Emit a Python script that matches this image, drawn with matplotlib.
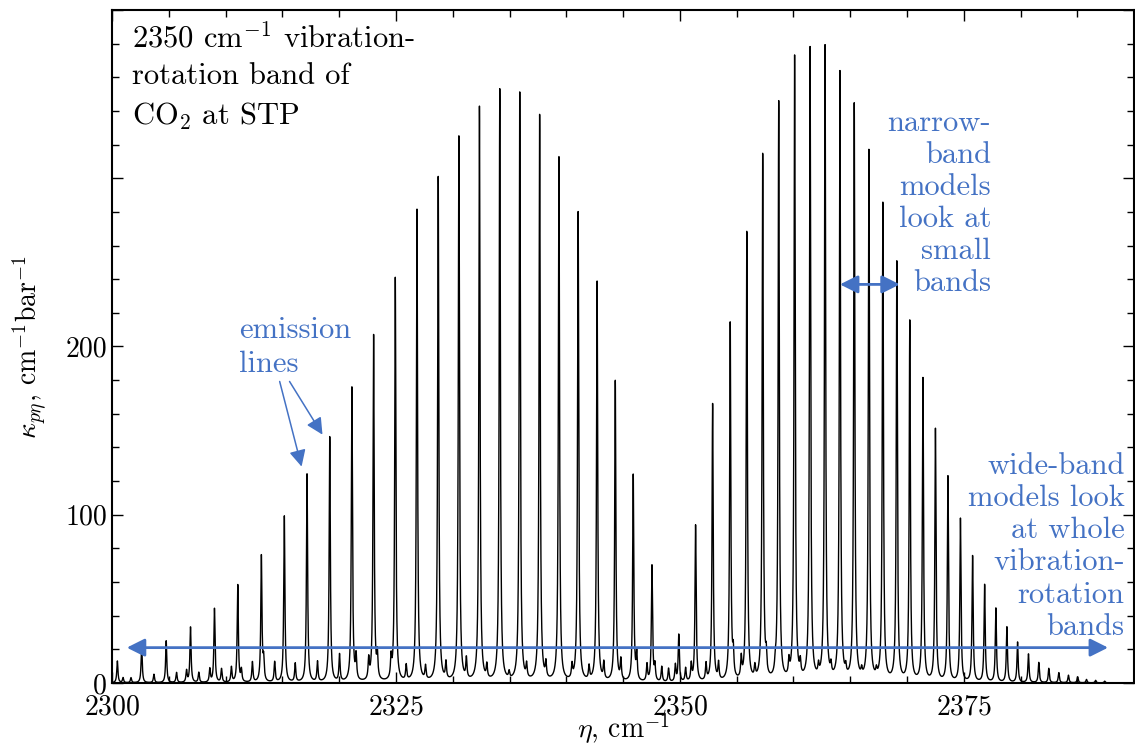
import numpy as np
import matplotlib
matplotlib.use("Agg")
import matplotlib.pyplot as plt
from matplotlib.ticker import MultipleLocator, FuncFormatter

plt.rcParams['font.family'] = ['cmr10', 'DejaVu Serif']
plt.rcParams['mathtext.fontset'] = 'cm'
plt.rcParams['axes.formatter.use_mathtext'] = True

# strong band lines: centre (cm^-1) and peak height
line_pos = [2300.47, 2302.61, 2304.77, 2306.91, 2309.02, 2311.07, 2313.15, 2315.17,
            2317.17, 2319.17, 2321.12, 2323.03, 2324.94, 2326.85, 2328.72, 2330.54,
            2332.35, 2334.14, 2335.90, 2337.65, 2339.35, 2341.04, 2342.71, 2344.31,
            2345.89, 2347.54, 2349.90,
            2351.38, 2352.88, 2354.43, 2355.89, 2357.29, 2358.70, 2360.10, 2361.46,
            2362.78, 2364.09, 2365.35, 2366.64, 2367.87, 2369.10, 2370.24, 2371.40,
            2372.50, 2373.60, 2374.70, 2375.77, 2376.83, 2377.82, 2378.79, 2379.73,
            2380.69, 2381.60, 2382.48, 2383.36, 2384.21, 2385.02, 2385.80, 2386.60,
            2387.40]
line_h = [13, 22, 25, 33, 44, 58, 75, 99, 124, 146, 175, 206, 240, 281, 300, 324,
          342, 352, 350, 337, 312, 279, 238, 179, 123, 69, 28,
          93, 165, 213, 267, 313, 344, 371, 376, 377, 362, 343, 315, 284, 249,
          214, 180, 150, 122, 97, 75, 58, 44, 33, 24, 17, 12, 8.5, 6, 4.5, 3.5,
          2, 1.5, 1]

# weak (hot band) lines
hot_pos = [2300.97, 2301.67, 2303.69, 2305.68, 2306.56, 2307.64, 2308.61, 2309.64,
           2310.51, 2311.39, 2312.36, 2313.35, 2314.32, 2316.13, 2318.09, 2320.03,
           2321.49, 2322.60, 2323.36, 2324.57, 2325.90, 2327.60, 2329.40, 2331.20,
           2333.00, 2334.96, 2336.50, 2338.20, 2340.50, 2342.00, 2343.30, 2344.80,
           2346.20, 2347.10, 2347.80, 2348.40, 2349.00, 2349.60, 2350.50, 2351.00,
           2352.30, 2353.40, 2354.70, 2355.40, 2356.60, 2357.60, 2358.40, 2359.60,
           2360.60, 2362.20, 2363.30, 2364.60, 2366.00, 2367.30]
hot_h = [3, 3, 5, 6, 7, 6, 8, 8, 9, 7, 12, 12, 12, 11, 12, 16, 14, 12, 14, 12,
         9, 8, 10, 12, 8, 4, 8, 9, 8, 8, 10, 12, 15, 10, 9, 9, 8, 10, 8, 10,
         10, 10, 14, 12, 7, 11, 5, 9, 8, 6, 6, 5, 4, 4]

gamma = 0.06  # Lorentz half width, cm^-1
blue = '#4472C4'

eta = np.arange(2300.0, 2390.0, 0.004)
kappa = np.zeros_like(eta)
for p, h in zip(line_pos + hot_pos, line_h + hot_h):
    kappa += h * gamma**2 / ((eta - p)**2 + gamma**2)

fig = plt.figure(figsize=(11.35, 7.46), dpi=100)
ax = fig.add_axes([0.0987, 0.0845, 0.9993 - 0.0987, 0.9866 - 0.0845])
ax.plot(eta, kappa, color='black', lw=1.0)
ax.set_xlim(2300, 2390)
ax.set_ylim(0, 400)

ax.xaxis.set_major_locator(MultipleLocator(25))
ax.xaxis.set_minor_locator(MultipleLocator(5))
ax.yaxis.set_major_locator(MultipleLocator(100))
ax.yaxis.set_minor_locator(MultipleLocator(20))
ax.yaxis.set_major_formatter(FuncFormatter(lambda v, p: '%d' % v if v <= 200 else ''))
ax.tick_params(which='both', direction='in', top=True, right=True, labelsize=20)
ax.tick_params(which='major', length=8, width=1)
ax.tick_params(which='minor', length=5, width=1)
ax.tick_params(axis='x', which='major', pad=8)
for s in ax.spines.values():
    s.set_linewidth(1.5)

ax.set_xlabel(r'$\eta$, cm$^{-1}$', fontsize=20, labelpad=-6)
ax.set_ylabel(r'$\kappa_{p\eta}$, cm$^{-1}$bar$^{-1}$', fontsize=20, labelpad=12)

ax.text(2301.8, 393, '2350 cm$^{-1}$ vibration-\nrotation band of\nCO$_2$ at STP',
        fontsize=22, va='top', ha='left', linespacing=1.45)

ax.text(2311.15, 218, 'emission\nlines', fontsize=22, color=blue, va='top',
        ha='left', linespacing=1.3)
ax.annotate('', xy=(2316.69, 128.6), xytext=(2314.76, 179.2),
            arrowprops=dict(arrowstyle='-|>', color=blue, lw=1.1,
                            mutation_scale=25, shrinkA=0, shrinkB=0))
ax.annotate('', xy=(2318.53, 147.6), xytext=(2315.63, 179.2),
            arrowprops=dict(arrowstyle='-|>', color=blue, lw=1.1,
                            mutation_scale=25, shrinkA=0, shrinkB=0))

ax.text(2377.4, 341, 'narrow-\nband\nmodels\nlook at\nsmall\nbands', fontsize=22,
        color=blue, va='top', ha='right', linespacing=1.22)
ax.annotate('', xy=(2369.36, 236.9), xytext=(2364.09, 236.9),
            arrowprops=dict(arrowstyle='<|-|>', color=blue, lw=2,
                            mutation_scale=27, shrinkA=0, shrinkB=0))

ax.text(2389.15, 137, 'wide-band\nmodels look\nat whole\nvibration-\nrotation\nbands',
        fontsize=22, color=blue, va='top', ha='right', linespacing=1.22)
ax.annotate('', xy=(2387.7, 21), xytext=(2301.3, 21),
            arrowprops=dict(arrowstyle='<|-|>', color=blue, lw=2,
                            mutation_scale=27, shrinkA=0, shrinkB=0))

fig.savefig('out.png', dpi=100)
